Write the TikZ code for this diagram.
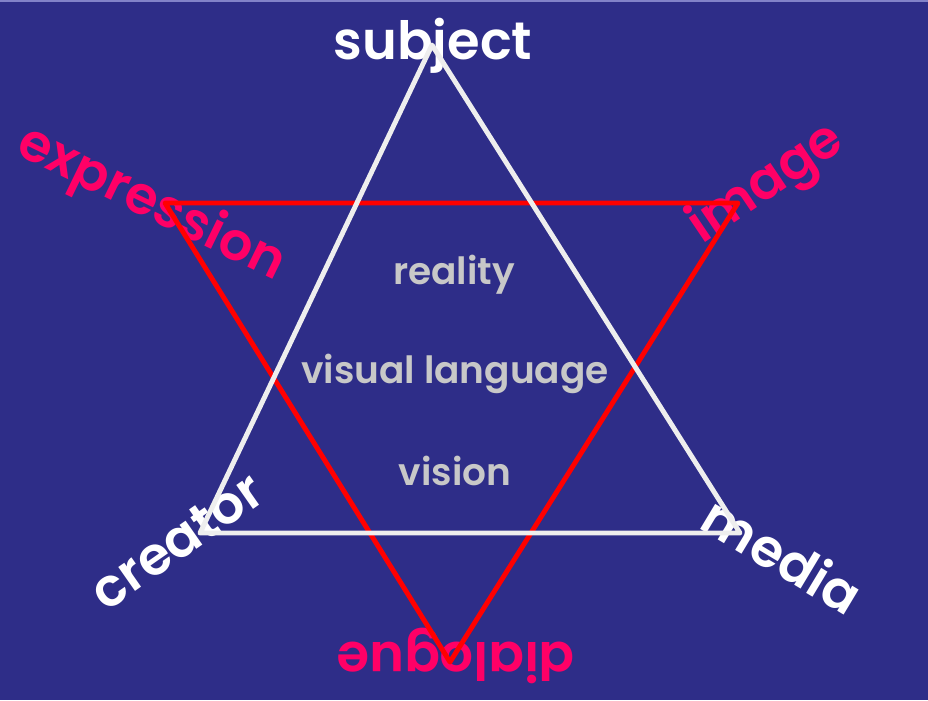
\documentclass[tikz,border=0pt]{standalone}
\usepackage{fontspec}
\setmainfont{Poppins}[BoldFont={Poppins SemiBold}]
\definecolor{bgblue}{RGB}{46,45,136}
\definecolor{topstrip}{RGB}{130,130,200}
\definecolor{hotpink}{RGB}{255,0,102}
\definecolor{linered}{RGB}{255,0,0}
\definecolor{softgray}{RGB}{200,200,200}
\definecolor{offwhite}{RGB}{238,238,238}

\begin{document}
\begin{tikzpicture}[x=0.03cm,y=-0.03cm,
    outer/.style={font=\fontsize{45}{45}\selectfont\bfseries, inner sep=0pt},
    middle/.style={font=\fontsize{32}{32}\selectfont\bfseries, text=softgray, inner sep=0pt},
    edge/.style={line width=4.2pt, line join=round}]
  \fill[bgblue] (0,0) rectangle (928,700);
  \fill[topstrip] (0,0) rectangle (928,2);
  % words
  \node[outer,text=white]   (subject)    at (433,46)  {subject};
  \node[outer,text=white,rotate=35]  (creator) at (177,541) {creator};
  \node[outer,text=white,rotate=-31] (media)   at (783,555) {media};
  \node[outer,text=hotpink,rotate=-26] (expression) at (151,205) {expression};
  \node[outer,text=hotpink,rotate=34]  (image)      at (767,185) {image};
  \node[outer,text=hotpink,rotate=180] (dialogue)   at (456,656) {dialogue};
  \node[middle] (reality)  at (454,275) {reality};
  \node[middle] (visual)   at (455,374) {visual language};
  \node[middle] (vision)   at (455,471) {vision};
  % red triangle
  \coordinate (ex) at (165,203);
  \coordinate (im) at (738,203);
  \coordinate (di) at (450,662);
  \draw[edge,linered] (ex) -- (im) -- (di) -- cycle;
  % white triangle
  \coordinate (su) at (432,45);
  \coordinate (cr) at (200,533);
  \coordinate (me) at (740,533);
  \draw[edge,offwhite] (su) -- (cr) -- (me) -- cycle;
\end{tikzpicture}
\end{document}
